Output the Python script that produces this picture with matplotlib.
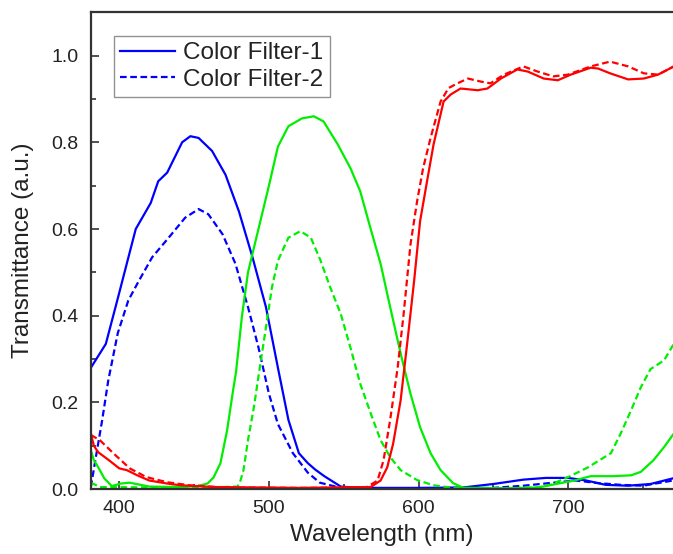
import numpy as np
import matplotlib
matplotlib.use("agg")
import matplotlib.pyplot as plt
from matplotlib.ticker import MultipleLocator

plt.rcParams['font.family'] = ['Liberation Sans', 'DejaVu Sans']

# blue filter
blue1_x = [381, 391, 399, 411, 421, 426, 432, 442, 447.5, 453, 462, 471, 480, 489, 498, 506,
           513, 520, 526, 531, 537, 548, 560, 600, 630, 650, 670, 685, 700, 712, 725, 740, 755, 770]
blue1_y = [0.28, 0.335, 0.44, 0.60, 0.66, 0.71, 0.73, 0.80, 0.814, 0.81, 0.78, 0.725, 0.64, 0.535, 0.42, 0.28,
           0.16, 0.083, 0.06, 0.045, 0.03, 0.006, 0.003, 0.003, 0.004, 0.012, 0.022, 0.026, 0.026, 0.02, 0.01, 0.008, 0.012, 0.025]
blue2_x = [381, 384, 388.6, 392.6, 399, 406, 413, 422, 433, 444, 453, 459.5, 469, 477.6, 486, 493,
           500, 506, 516, 526, 534, 548, 600, 650, 670, 690, 705, 720, 735, 750, 770]
blue2_y = [0.005, 0.067, 0.16, 0.25, 0.36, 0.435, 0.48, 0.535, 0.58, 0.626, 0.646, 0.634, 0.588, 0.52, 0.42, 0.327,
           0.22, 0.15, 0.083, 0.038, 0.015, 0.003, 0.002, 0.003, 0.008, 0.015, 0.02, 0.014, 0.01, 0.008, 0.02]

# green filter
green1_x = [381, 383, 386, 390, 395, 401, 407, 420, 440, 452, 459, 463, 467.6, 472, 476, 478, 482, 486, 493,
            500, 506, 513, 522, 530, 536.5, 546, 554.5, 561, 568, 574.6, 581, 588, 594.6, 601, 608, 614.7,
            623, 630, 660, 680, 692, 704, 715, 730, 742, 748.5, 757, 764, 770.5]
green1_y = [0.09, 0.067, 0.05, 0.025, 0.007, 0.013, 0.015, 0.006, 0.005, 0.007, 0.013, 0.027, 0.06, 0.135, 0.227, 0.27, 0.40, 0.50, 0.60,
            0.70, 0.79, 0.837, 0.855, 0.86, 0.848, 0.795, 0.74, 0.687, 0.60, 0.52, 0.42, 0.313, 0.22, 0.143, 0.083, 0.044,
            0.014, 0.003, 0.002, 0.004, 0.012, 0.02, 0.03, 0.03, 0.032, 0.04, 0.067, 0.097, 0.128]
green2_x = [381, 387, 420, 460, 479, 481, 483, 486, 490, 493, 498, 502, 506, 513, 521, 528, 534.5,
            541, 548, 554.5, 561, 568, 574.6, 581, 588, 599, 610, 623, 660, 680, 688, 700, 713, 728.5,
            735, 742, 748.5, 755, 764, 770.5]
green2_y = [0.015, 0.005, 0.004, 0.004, 0.006, 0.02, 0.044, 0.113, 0.19, 0.26, 0.373, 0.465, 0.527, 0.58, 0.595, 0.58, 0.527,
            0.465, 0.404, 0.326, 0.243, 0.175, 0.113, 0.074, 0.044, 0.021, 0.009, 0.003, 0.002, 0.004, 0.01, 0.028, 0.05, 0.083,
            0.128, 0.182, 0.235, 0.277, 0.297, 0.335]

# red filter
red1_x = [381, 383, 386, 393, 400, 405, 412, 420, 432, 441, 463, 520, 568, 574.6, 579, 583, 588, 592.6,
          597, 601, 606, 610, 616.7, 621.4, 628, 639.5, 646, 655, 666, 673, 683.6, 693, 701.7,
          715, 720, 728, 740, 750.5, 760, 770.6]
red1_y = [0.128, 0.10, 0.085, 0.067, 0.048, 0.044, 0.032, 0.02, 0.013, 0.009, 0.005, 0.003, 0.005, 0.02, 0.05, 0.105, 0.205, 0.343,
          0.48, 0.618, 0.717, 0.795, 0.894, 0.91, 0.924, 0.92, 0.924, 0.947, 0.968, 0.963, 0.947, 0.943, 0.956,
          0.972, 0.97, 0.959, 0.945, 0.947, 0.956, 0.975]
red2_x = [381, 387, 396, 407, 418, 432, 447, 470, 520, 565, 572.6, 576.6, 581, 586, 590, 594.6, 599,
          603, 608, 614.7, 620, 626, 633, 641.5, 648, 657, 670, 679.6, 690, 699.7, 715, 728, 740,
          750.5, 760, 770.6]
red2_y = [0.125, 0.113, 0.083, 0.048, 0.028, 0.016, 0.009, 0.004, 0.003, 0.004, 0.02, 0.067, 0.16, 0.28, 0.404, 0.565, 0.664,
          0.74, 0.81, 0.894, 0.925, 0.936, 0.947, 0.94, 0.936, 0.956, 0.975, 0.963, 0.952, 0.956, 0.975, 0.986, 0.975,
          0.959, 0.956, 0.975]

fig = plt.figure(figsize=(6.73, 5.54), dpi=100)
ax = fig.add_axes([0.135, 0.117, 0.865, 0.861])

dash = (0, (3, 1.6))
lw = 1.6
ax.plot(blue1_x, blue1_y, color='#0000ff', lw=lw, label='Color Filter-1')
ax.plot(blue2_x, blue2_y, color='#0000ff', lw=lw, ls=dash, label='Color Filter-2')
ax.plot(green1_x, green1_y, color='#00ee00', lw=lw)
ax.plot(green2_x, green2_y, color='#00ee00', lw=lw, ls=dash)
ax.plot(red1_x, red1_y, color='#ff0000', lw=lw)
ax.plot(red2_x, red2_y, color='#ff0000', lw=lw, ls=dash)

ax.set_xlim(381, 770)
ax.set_ylim(0, 1.1)
ax.xaxis.set_major_locator(MultipleLocator(100))
ax.xaxis.set_minor_locator(MultipleLocator(50))
ax.yaxis.set_major_locator(MultipleLocator(0.2))
ax.yaxis.set_minor_locator(MultipleLocator(0.1))
ax.yaxis.set_major_formatter(plt.FormatStrFormatter('%.1f'))
ax.tick_params(which='both', direction='in', labelsize=14, width=1.2, color='#333333',
               labelcolor='#222222')
ax.tick_params(which='major', length=6)
ax.tick_params(which='minor', length=3.5)
ax.tick_params(axis='x', pad=8)
ax.tick_params(axis='y', pad=9)
ax.spines['right'].set_visible(False)
for s in ['left', 'bottom', 'top']:
    ax.spines[s].set_linewidth(1.6)
    ax.spines[s].set_color('#333333')

ax.set_xlabel('Wavelength (nm)', fontsize=17.5, labelpad=5, color='#222222')
ax.set_ylabel('Transmittance (a.u.)', fontsize=17.5, labelpad=12, color='#222222')

leg = ax.legend(loc='upper left', bbox_to_anchor=(0.04, 0.95), fontsize=17.5, frameon=True,
                fancybox=False, edgecolor='#777777', handlelength=2.25, handletextpad=0.35,
                borderpad=0.25, labelspacing=0.2, borderaxespad=0)
leg.get_frame().set_linewidth(1.0)
for t in leg.get_texts():
    t.set_color('#222222')

fig.savefig('out.png', dpi=100)
